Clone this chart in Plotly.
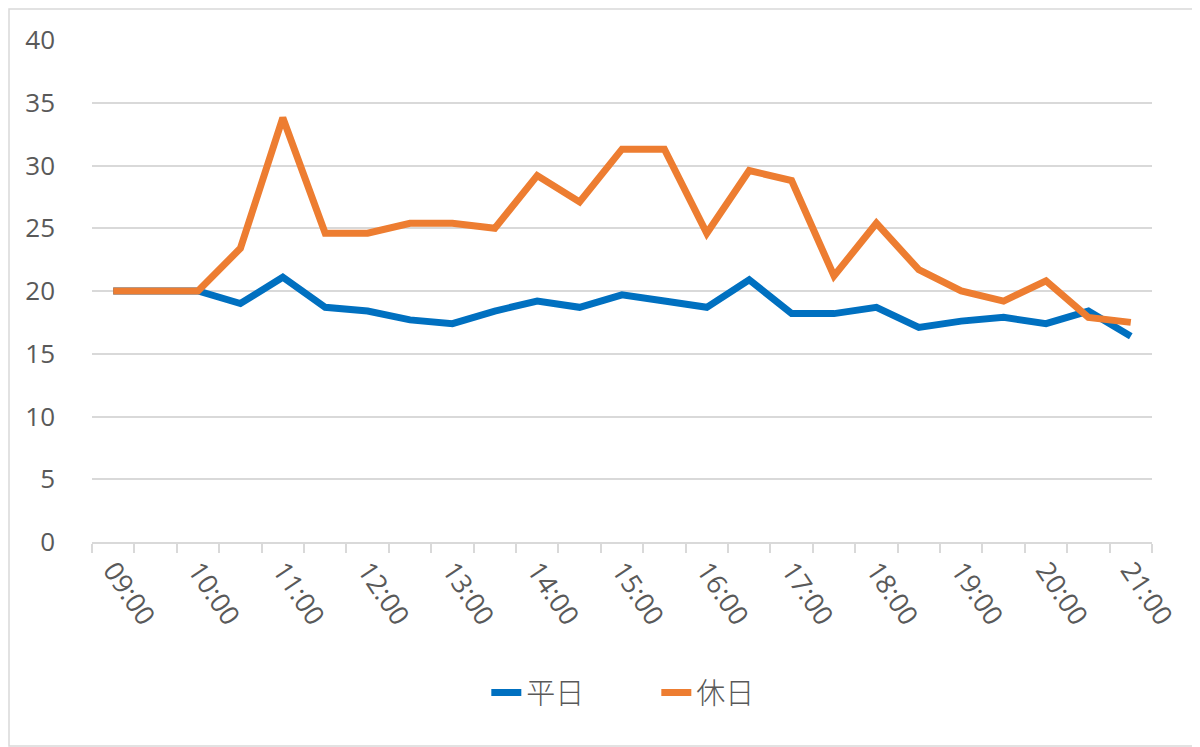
import plotly.graph_objects as go

# 30-minute slots 09:00 - 21:00
times = ["09:00", "09:30", "10:00", "10:30", "11:00", "11:30", "12:00", "12:30",
         "13:00", "13:30", "14:00", "14:30", "15:00", "15:30", "16:00", "16:30",
         "17:00", "17:30", "18:00", "18:30", "19:00", "19:30", "20:00", "20:30", "21:00"]
tick_labels = [t if t.endswith(":00") else "" for t in times]

weekday = [20, 20, 20, 19.0, 21.1, 18.7, 18.4, 17.7, 17.4, 18.4, 19.2, 18.7, 19.7,
           19.2, 18.7, 20.9, 18.2, 18.2, 18.7, 17.1, 17.6, 17.9, 17.4, 18.4, 16.4]
holiday = [20, 20, 20, 23.4, 33.8, 24.6, 24.6, 25.4, 25.4, 25.0, 29.2, 27.1, 31.3,
           31.3, 24.6, 29.6, 28.8, 21.2, 25.4, 21.7, 20.0, 19.2, 20.8, 17.9, 17.5]

fig = go.Figure()
fig.add_trace(go.Scatter(x=times, y=weekday, name="平日", mode="lines",
                         line=dict(color="#0070C0", width=7)))
fig.add_trace(go.Scatter(x=times, y=holiday, name="休日", mode="lines",
                         line=dict(color="#ED7D31", width=7)))

grey = "#595959"
# page body has an 8px margin, so the figure is a bit smaller than the window
fig.update_layout(
    width=1192, height=739,
    margin=dict(l=84, r=48, t=32, b=205),
    paper_bgcolor="white", plot_bgcolor="white",
    font=dict(family="Open Sans, Noto Sans CJK JP", size=26, color=grey),
    showlegend=True,
    legend=dict(orientation="h", x=0.372, xanchor="left", y=-0.30, yanchor="middle",
                font=dict(family="Noto Sans CJK JP", size=29, color=grey, weight=300),
                entrywidth=125, entrywidthmode="pixels"),
    xaxis=dict(type="category", range=[-0.5, 24.5],
               tickmode="array", tickvals=times, ticktext=tick_labels,
               tickson="boundaries", ticks="outside", ticklen=9, tickcolor="#D9D9D9",
               tickwidth=1.5, showgrid=False, showline=True, linecolor="#D9D9D9",
               linewidth=1.5, tickangle=56, tickfont=dict(size=27, color=grey)),
    yaxis=dict(range=[0, 40], dtick=5, showgrid=True, gridcolor="#D9D9D9", gridwidth=1.5,
               zeroline=False, showline=False, ticks="", ticklabelstandoff=36,
               tickfont=dict(size=26, color=grey)),
)

# light outer border of the chart area
fig.add_shape(type="rect", xref="paper", yref="paper",
              x0=(1 - 84) / 1060, x1=(1189 - 84) / 1060,
              y0=(534 - 738) / 502, y1=(534 - 1) / 502,
              line=dict(color="#D9D9D9", width=1.5), layer="below")

fig.write_html("out.html")
